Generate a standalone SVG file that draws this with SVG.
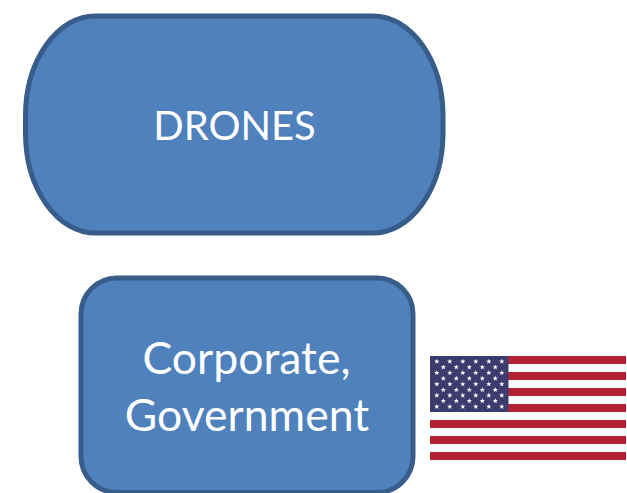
<svg xmlns="http://www.w3.org/2000/svg" width="627" height="493" viewBox="0 0 627 493">
<style>
.box{fill:#4f81bd;stroke:#385d8a;stroke-width:5}
.lbl{font-family:"Lato","Open Sans","Liberation Sans",sans-serif;fill:#fff;text-anchor:middle}
.big{font-size:44.500px}
.small{font-size:40px}
.r{fill:#b22234}
.w{fill:#fff}
.s{fill:#fff}
</style>
<defs>
<polygon id="st" class="s" points="0,-2.8 0.65,-0.9 2.66,-0.87 1.05,0.34 1.65,2.27 0,1.1 -1.65,2.27 -1.05,0.34 -2.66,-0.87 -0.65,-0.9"/>
<g id="r6"><use href="#st" x="0"/><use href="#st" x="13"/><use href="#st" x="26"/><use href="#st" x="39"/><use href="#st" x="52"/><use href="#st" x="65"/></g>
<g id="r5"><use href="#st" x="6.5"/><use href="#st" x="19.5"/><use href="#st" x="32.5"/><use href="#st" x="45.5"/><use href="#st" x="58.5"/></g>
</defs>
<rect width="627" height="493" fill="#fff"/>
<g id="connectors"/>
<g id="drones">
<rect class="box" x="25.500" y="16" width="417.500" height="217" rx="70" ry="100"/>
<text class="lbl small" x="234.500" y="140">DRONES</text>
</g>
<g id="corporate">
<rect class="box" x="81" y="278" width="332" height="214.500" rx="36" ry="36"/>
<text class="lbl big" x="246.500" y="374">Corporate,</text>
<text class="lbl big" x="247" y="431">Government</text>
</g>
<g id="flag">
<rect class="w" x="430" y="356" width="196" height="104"/>
<rect class="r" x="430" y="356" width="196" height="8"/>
<rect class="r" x="430" y="372" width="196" height="8"/>
<rect class="r" x="430" y="388" width="196" height="8"/>
<rect class="r" x="430" y="404" width="196" height="8"/>
<rect class="r" x="430" y="420" width="196" height="8"/>
<rect class="r" x="430" y="436" width="196" height="8"/>
<rect class="r" x="430" y="452" width="196" height="8"/>
<rect x="430" y="356" width="78.500" height="56" fill="#3c3b6e"/>
<g transform="translate(436.800,0)">
<use href="#r6" y="361.500"/><use href="#r5" y="367.200"/><use href="#r6" y="372.800"/><use href="#r5" y="378.500"/><use href="#r6" y="384.100"/><use href="#r5" y="389.800"/><use href="#r6" y="395.400"/><use href="#r5" y="401"/><use href="#r6" y="406.700"/>
</g>
</g>
</svg>
